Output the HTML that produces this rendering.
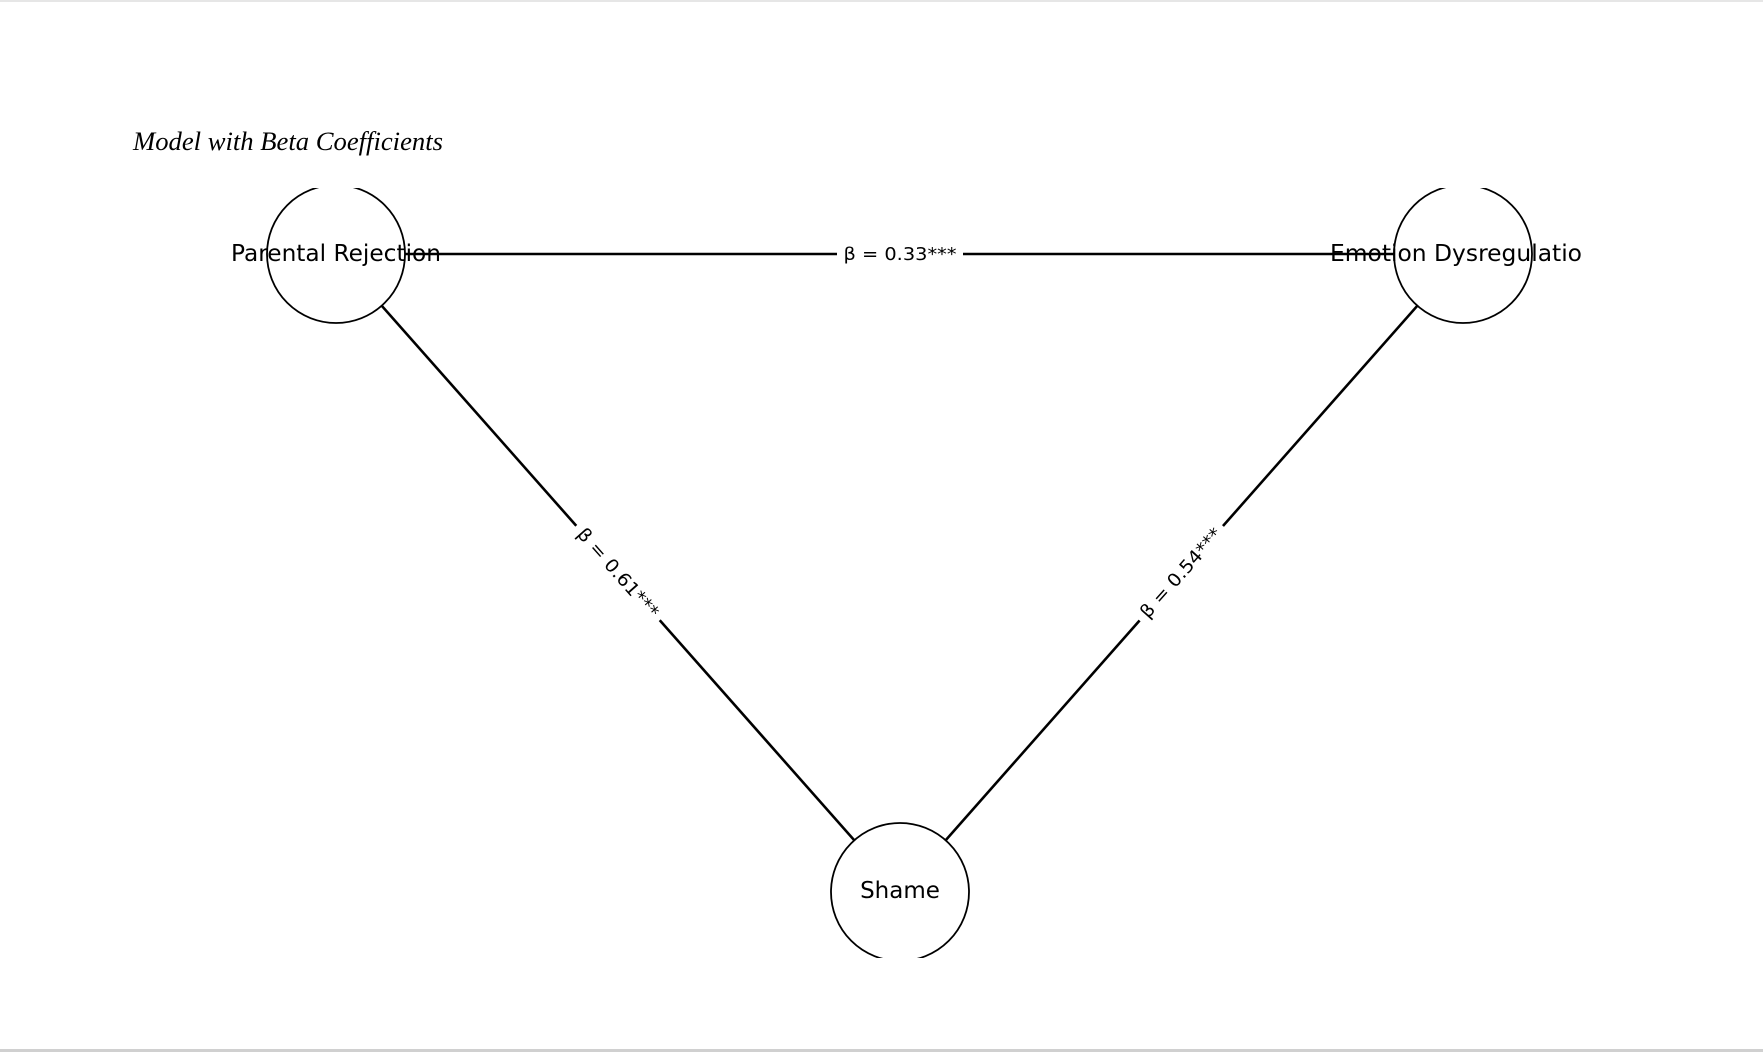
<!DOCTYPE html>
<html><head><meta charset="utf-8"><style>
html,body{margin:0;padding:0;background:#fff;}
svg{display:block;}
</style></head><body>
<svg width="1763" height="1052" viewBox="0 0 1763 1052" xmlns="http://www.w3.org/2000/svg">
<rect x="0" y="0" width="1763" height="1052" fill="#fff"/>
<rect x="0" y="0" width="1763" height="2" fill="#e6e6e6"/>
<rect x="0" y="1049" width="1763" height="3" fill="#d0d0d0"/>
<text x="133" y="150" font-family="Liberation Serif, serif" font-style="italic" font-size="26" textLength="310" lengthAdjust="spacingAndGlyphs" fill="#000">Model with Beta Coefficients</text>
<defs><clipPath id="c"><rect x="0" y="188" width="1763" height="770"/></clipPath></defs>
<g clip-path="url(#c)" stroke="#000" fill="none">
<line x1="336" y1="254" x2="1463" y2="254" stroke-width="2.6"/>
<line x1="336" y1="254" x2="900" y2="892" stroke-width="2.6"/>
<line x1="1463" y1="254" x2="900" y2="892" stroke-width="2.6"/>
<circle cx="336" cy="254" r="69" fill="#fff" stroke-width="1.8"/>
<circle cx="1463" cy="254" r="69" fill="#fff" stroke-width="1.8"/>
<circle cx="900" cy="892" r="69" fill="#fff" stroke-width="1.8"/>
</g>
<g font-family="DejaVu Sans, Liberation Sans, sans-serif" fill="#000">
<text x="336" y="261" font-size="23" text-anchor="middle" textLength="210" lengthAdjust="spacingAndGlyphs">Parental Rejection</text>
<text x="1456" y="261" font-size="23" text-anchor="middle" textLength="252" lengthAdjust="spacingAndGlyphs">Emotion Dysregulatio</text>
<text x="900" y="898" font-size="23" text-anchor="middle">Shame</text>
<rect x="837" y="242" width="126" height="24" fill="#fff"/>
<text x="900" y="260" font-size="18" text-anchor="middle" textLength="113" lengthAdjust="spacingAndGlyphs">β = 0.33***</text>
<g transform="translate(618,573) rotate(48.5)">
<rect x="-63" y="-12" width="126" height="24" fill="#fff"/>
<text x="0" y="6" font-size="18" text-anchor="middle" textLength="113" lengthAdjust="spacingAndGlyphs">β = 0.61***</text>
</g>
<g transform="translate(1181,573) rotate(-48.5)">
<rect x="-63" y="-12" width="126" height="24" fill="#fff"/>
<text x="0" y="6" font-size="18" text-anchor="middle" textLength="113" lengthAdjust="spacingAndGlyphs">β = 0.54***</text>
</g>
</g>
</svg>
</body></html>
